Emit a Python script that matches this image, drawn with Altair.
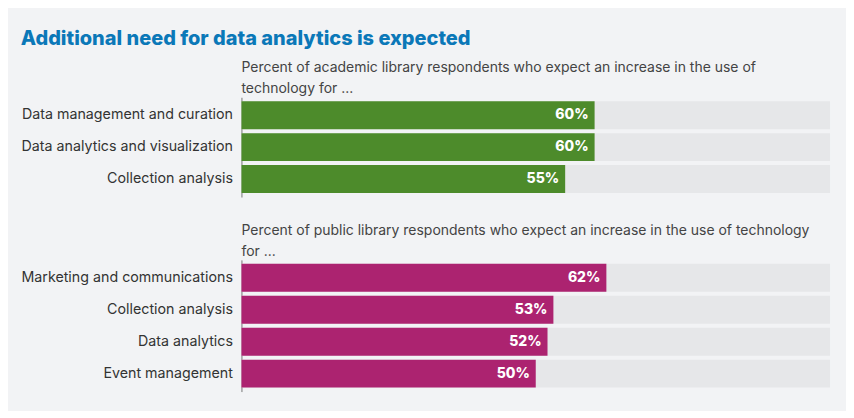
import altair as alt
import pandas as pd

academic_cats = ["Data management and curation", "Data analytics and visualization", "Collection analysis"]
academic_vals = [60, 60, 55]
public_cats = ["Marketing and communications", "Collection analysis", "Data analytics", "Event management"]
public_vals = [62, 53, 52, 50]

title_text = "Additional need for data analytics is expected"
academic_sub = ["Percent of academic library respondents who expect an increase in the use of", "technology for ..."]
public_sub = ["Percent of public library respondents who expect an increase in the use of technology", "for ..."]

FONT = "Inter"


def panel(cats, vals, color, sub):
    df = pd.DataFrame({"cat": cats, "val": vals, "full": [100] * len(cats),
                       "label": [f"{v}%" for v in vals]})
    y = alt.Y("cat:N", sort=cats, title=None,
              scale=alt.Scale(paddingInner=0.125, paddingOuter=0.125))
    xs = alt.Scale(domain=[0, 100])
    base = alt.Chart(df)
    bg = base.mark_bar(color="#e6e7e9").encode(
        x=alt.X("full:Q", scale=xs, axis=None), y=y)
    fg = base.mark_bar(color=color).encode(
        x=alt.X("val:Q", scale=xs, axis=None), y=y)
    txt = base.mark_text(align="right", baseline="middle", dx=-6, color="white",
                         fontSize=14, fontWeight=800, font=FONT).encode(
        x=alt.X("val:Q", scale=xs, axis=None), y=y, text="label:N")
    return alt.layer(bg, fg, txt).properties(
        width=590, height=32 * len(cats) + 4,
        title=alt.TitleParams(text=sub, anchor="start", frame="group", fontSize=14,
                              fontWeight="normal", color="#444444", lineHeight=21,
                              offset=1, font=FONT))


c1 = panel(academic_cats, academic_vals, "#4d8b2b", academic_sub)
c2 = panel(public_cats, public_vals, "#ac2370", public_sub)

chart = alt.vconcat(c1, c2, spacing=27).properties(
    title=alt.TitleParams(title_text, anchor="start", fontSize=20, fontWeight=800,
                          color="#0b78b8", font=FONT, offset=12),
    padding={"left": 12, "top": 21, "right": 16, "bottom": 19},
    background="#f2f3f5",
).configure_view(stroke=None).configure_axisY(
    labelFontSize=14.3, labelColor="#333333", labelFont=FONT, labelPadding=9, ticks=False,
    domainColor="#777777", domainWidth=1, grid=False, labelFontWeight="normal",
    labelLimit=400
)

chart.save("out.html", embed_options={"renderer": "svg", "actions": False})
